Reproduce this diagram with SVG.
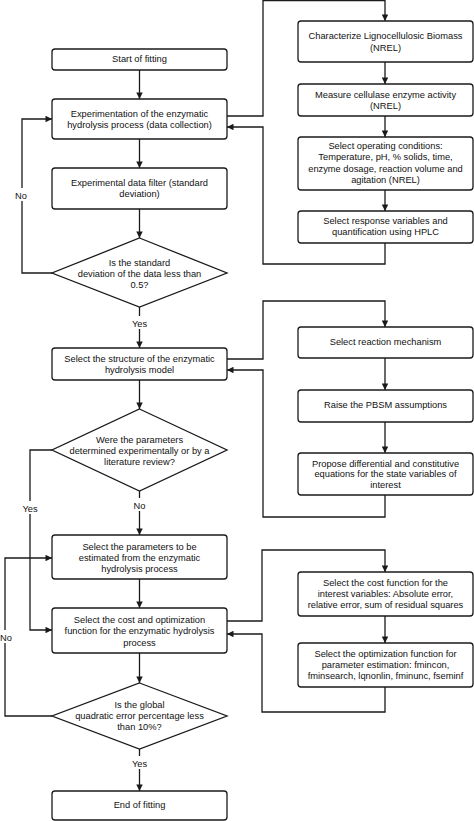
<svg xmlns="http://www.w3.org/2000/svg" width="474" height="821" viewBox="0 0 474 821">
<defs>
<marker id="arr" viewBox="0 0 10 10" refX="10" refY="5" markerUnits="userSpaceOnUse" markerWidth="7" markerHeight="6.5" orient="auto">
<path d="M0,0 L10,5 L0,10 z" fill="#1a1a1a"/>
</marker>
<style>
.box{fill:#fff;stroke:#1a1a1a;stroke-width:1.3}
.dia{fill:#fff;stroke:#1a1a1a;stroke-width:1.3}
.t{font-family:"Liberation Sans",Arial,sans-serif;font-size:9.3px;fill:#111;text-anchor:middle}
.c{fill:none;stroke:#1a1a1a;stroke-width:1.3}
.ca{fill:none;stroke:#1a1a1a;stroke-width:1.3;marker-end:url(#arr)}
.lb{fill:#fff}
</style>
</defs>
<rect width="474" height="821" fill="#fff"/>
<g id="connectors">
<line class="ca" x1="139.5" y1="70" x2="139.5" y2="99"/>
<line class="ca" x1="139.5" y1="139" x2="139.5" y2="168"/>
<line class="ca" x1="139.5" y1="209" x2="139.5" y2="238"/>
<line class="ca" x1="139.5" y1="307" x2="139.5" y2="348"/>
<polyline class="ca" points="52,273 22,273 22,119 52,119"/>
<polyline class="ca" points="227,116 263,116 263,0.5 385,0.5 385,21"/>
<line class="ca" x1="385" y1="62" x2="385" y2="84"/>
<line class="ca" x1="385" y1="116" x2="385" y2="137"/>
<line class="ca" x1="385" y1="190" x2="385" y2="211"/>
<polyline class="ca" points="385,243 385,264 263,264 263,127 227,127"/>
<polyline class="ca" points="227,359 263,359 263,301 385,301 385,327"/>
<line class="ca" x1="385" y1="358" x2="385" y2="390"/>
<line class="ca" x1="385" y1="422" x2="385" y2="453"/>
<polyline class="ca" points="385,495 385,517 263,517 263,370 227,370"/>
<line class="ca" x1="139.5" y1="380" x2="139.5" y2="409"/>
<line class="ca" x1="139.5" y1="491" x2="139.5" y2="535"/>
<polyline class="ca" points="52,450 30,450 30,630 52,630"/>
<line class="ca" x1="139.5" y1="579" x2="139.5" y2="608"/>
<polyline class="ca" points="227,621 262,621 262,550 385,550 385,572"/>
<line class="ca" x1="385" y1="616" x2="385" y2="643"/>
<polyline class="ca" points="385,687 385,712 262,712 262,634 227,634"/>
<line class="ca" x1="139.5" y1="653" x2="139.5" y2="683"/>
<polyline class="ca" points="52,716 5,716 5,558 52,558"/>
<line class="ca" x1="139.5" y1="749" x2="139.5" y2="791"/>
<g id="labels">
<rect class="lb" x="131" y="316" width="17" height="13"/>
<text class="t" x="139.5" y="326.5">Yes</text>
<rect class="lb" x="14" y="188" width="15" height="13"/>
<text class="t" x="21" y="198.5">No</text>
<rect class="lb" x="133" y="498" width="14" height="13"/>
<text class="t" x="139.5" y="508.5">No</text>
<rect class="lb" x="21" y="501" width="18" height="13"/>
<text class="t" x="30" y="511.5">Yes</text>
<rect class="lb" x="0" y="630" width="13" height="13"/>
<text class="t" x="6" y="640.5">No</text>
<rect class="lb" x="131" y="756" width="17" height="13"/>
<text class="t" x="139.5" y="766.5">Yes</text>
</g>
</g>
<g id="start">
<rect class="box" x="52" y="49" width="175" height="21" rx="3"/>
<text class="t" x="139.5" y="62">Start of fitting</text>
</g>
<g id="experimentation">
<rect class="box" x="52" y="99" width="175" height="40" rx="3"/>
<text class="t" x="139.5" y="116.5">Experimentation of the enzymatic</text>
<text class="t" x="139.5" y="127.5">hydrolysis process (data collection)</text>
</g>
<g id="filter">
<rect class="box" x="52" y="168" width="175" height="41" rx="3"/>
<text class="t" x="139.5" y="185.5">Experimental data filter (standard</text>
<text class="t" x="139.5" y="197">deviation)</text>
</g>
<g id="decision1">
<polygon class="dia" points="139.5,238 227,273 139.5,307 52,273"/>
<text class="t" x="139.5" y="265.5">Is the standard</text>
<text class="t" x="139.5" y="276.5">deviation of the data less than</text>
<text class="t" x="139.5" y="288">0.5?</text>
</g>
<g id="structure">
<rect class="box" x="52" y="348" width="175" height="32" rx="3"/>
<text class="t" x="139.5" y="361.5">Select the structure of the enzymatic</text>
<text class="t" x="139.5" y="372.5">hydrolysis model</text>
</g>
<g id="decision2">
<polygon class="dia" points="139.5,409 227,450 139.5,491 52,450"/>
<text class="t" x="139.5" y="442.5">Were the parameters</text>
<text class="t" x="139.5" y="453.5">determined experimentally or by a</text>
<text class="t" x="139.5" y="464.5">literature review?</text>
</g>
<g id="params">
<rect class="box" x="52" y="535" width="175" height="44" rx="3"/>
<text class="t" x="139.5" y="549.5">Select the parameters to be</text>
<text class="t" x="139.5" y="560.5">estimated from the enzymatic</text>
<text class="t" x="139.5" y="571.5">hydrolysis process</text>
</g>
<g id="cost">
<rect class="box" x="52" y="608" width="175" height="45" rx="3"/>
<text class="t" x="139.5" y="622.5">Select the cost and optimization</text>
<text class="t" x="139.5" y="634">function for the enzymatic hydrolysis</text>
<text class="t" x="139.5" y="645.5">process</text>
</g>
<g id="decision3">
<polygon class="dia" points="139.5,683 227,716 139.5,749 52,716"/>
<text class="t" x="139.5" y="707.5">Is the global</text>
<text class="t" x="139.5" y="718.5">quadratic error percentage less</text>
<text class="t" x="139.5" y="730">than 10%?</text>
</g>
<g id="end">
<rect class="box" x="52" y="791" width="175" height="29" rx="3"/>
<text class="t" x="139.5" y="807.5">End of fitting</text>
</g>
<g id="characterize">
<rect class="box" x="298" y="21" width="175" height="41" rx="3"/>
<text class="t" x="385.5" y="38.5">Characterize Lignocellulosic Biomass</text>
<text class="t" x="385.5" y="50.5">(NREL)</text>
</g>
<g id="measure">
<rect class="box" x="298" y="84" width="175" height="32" rx="3"/>
<text class="t" x="385.5" y="97.5">Measure cellulase enzyme activity</text>
<text class="t" x="385.5" y="108.5">(NREL)</text>
</g>
<g id="operating">
<rect class="box" x="298" y="137" width="175" height="53" rx="3"/>
<text class="t" x="385.5" y="148.5">Select operating conditions:</text>
<text class="t" x="385.5" y="160">Temperature, pH, % solids, time,</text>
<text class="t" x="385.5" y="171.5">enzyme dosage, reaction volume and</text>
<text class="t" x="385.5" y="182.5">agitation (NREL)</text>
</g>
<g id="response">
<rect class="box" x="298" y="211" width="175" height="32" rx="3"/>
<text class="t" x="385.5" y="223.5">Select response variables and</text>
<text class="t" x="385.5" y="234.5">quantification using HPLC</text>
</g>
<g id="reaction">
<rect class="box" x="298" y="327" width="175" height="31" rx="3"/>
<text class="t" x="385.5" y="344.5">Select reaction mechanism</text>
</g>
<g id="raise">
<rect class="box" x="298" y="390" width="175" height="32" rx="3"/>
<text class="t" x="385.5" y="407.5">Raise the PBSM assumptions</text>
</g>
<g id="propose">
<rect class="box" x="298" y="453" width="175" height="42" rx="3"/>
<text class="t" x="385.5" y="466.5">Propose differential and constitutive</text>
<text class="t" x="385.5" y="477">equations for the state variables of</text>
<text class="t" x="385.5" y="487.5">interest</text>
</g>
<g id="costfunction">
<rect class="box" x="298" y="572" width="175" height="44" rx="3"/>
<text class="t" x="385.5" y="585.5">Select the cost function for the</text>
<text class="t" x="385.5" y="596.5">interest variables: Absolute error,</text>
<text class="t" x="385.5" y="607.5">relative error, sum of residual squares</text>
</g>
<g id="optfunction">
<rect class="box" x="298" y="643" width="175" height="44" rx="3"/>
<text class="t" x="385.5" y="656.5">Select the optimization function for</text>
<text class="t" x="385.5" y="667.5">parameter estimation: fmincon,</text>
<text class="t" x="385.5" y="678.5">fminsearch, lqnonlin, fminunc, fseminf</text>
</g>
</svg>
